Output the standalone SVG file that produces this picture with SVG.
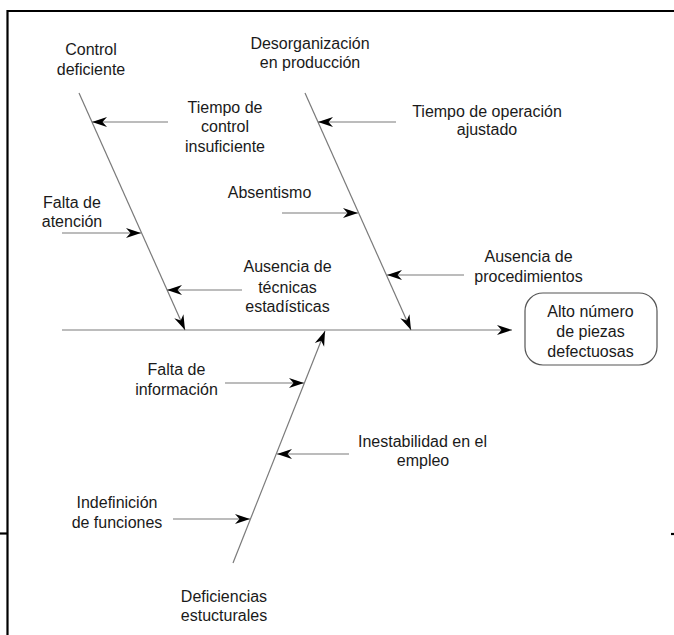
<svg xmlns="http://www.w3.org/2000/svg" width="674" height="635" viewBox="0 0 674 635">
<style>
text{font-family:"Liberation Sans",Arial,sans-serif;font-size:16px;fill:#1a1a1a;text-anchor:middle}
.ln{stroke:#7a7a7a;stroke-width:1.2;fill:none}
.frame{stroke:#000;stroke-width:2.2;fill:none}
</style>
<defs>
<marker id="ah" markerUnits="userSpaceOnUse" markerWidth="20" markerHeight="12" viewBox="-16 -6 18 12" refX="0" refY="0" orient="auto">
<path d="M0,0 L-15,-5 L-10.5,0 L-15,5 Z" fill="#000"/>
</marker>
</defs>
<rect width="674" height="635" fill="#fff"/>
<g id="frame">
<path class="frame" d="M7.5,635 V11 H674"/>
<path class="frame" d="M0,533.5 H7.5"/>
<path class="frame" d="M671,534 H674"/>
</g>
<g id="connectors">
<line class="ln" x1="62" y1="330" x2="512" y2="330" marker-end="url(#ah)"/>
<line class="ln" x1="79" y1="93" x2="185" y2="330" marker-end="url(#ah)"/>
<line class="ln" x1="305" y1="93" x2="411" y2="330" marker-end="url(#ah)"/>
<line class="ln" x1="233" y1="563" x2="325" y2="331" marker-end="url(#ah)"/>
<line class="ln" x1="168" y1="122" x2="92" y2="122" marker-end="url(#ah)"/>
<line class="ln" x1="396" y1="122" x2="318" y2="122" marker-end="url(#ah)"/>
<line class="ln" x1="62" y1="233" x2="141" y2="233" marker-end="url(#ah)"/>
<line class="ln" x1="282" y1="213" x2="358" y2="213" marker-end="url(#ah)"/>
<line class="ln" x1="242" y1="290" x2="167" y2="290" marker-end="url(#ah)"/>
<line class="ln" x1="464" y1="275" x2="387" y2="275" marker-end="url(#ah)"/>
<line class="ln" x1="225" y1="383" x2="304" y2="383" marker-end="url(#ah)"/>
<line class="ln" x1="349" y1="454" x2="277" y2="454" marker-end="url(#ah)"/>
<line class="ln" x1="173" y1="519" x2="250" y2="519" marker-end="url(#ah)"/>
</g>
<g id="effect">
<rect x="525" y="293" width="132" height="72" rx="18" ry="18" fill="#fff" stroke="#555" stroke-width="1.2"/>
<text x="590.5" y="317">Alto número</text>
<text x="590.5" y="337">de piezas</text>
<text x="590.5" y="357">defectuosas</text>
</g>
<g id="control-deficiente">
<text x="91" y="55">Control</text>
<text x="91" y="75">deficiente</text>
</g>
<g id="desorganizacion">
<text x="310" y="49">Desorganización</text>
<text x="310" y="68">en producción</text>
</g>
<g id="deficiencias-estructurales">
<text x="224" y="602">Deficiencias</text>
<text x="224" y="621">estucturales</text>
</g>
<g id="tiempo-control">
<text x="225" y="113">Tiempo de</text>
<text x="225" y="132">control</text>
<text x="225" y="152">insuficiente</text>
</g>
<g id="tiempo-operacion">
<text x="487" y="117">Tiempo de operación</text>
<text x="487" y="135">ajustado</text>
</g>
<g id="falta-atencion">
<text x="72" y="208">Falta de</text>
<text x="72" y="227">atención</text>
</g>
<g id="absentismo">
<text x="269.5" y="198">Absentismo</text>
</g>
<g id="ausencia-tecnicas">
<text x="287.5" y="272">Ausencia de</text>
<text x="287.5" y="293">técnicas</text>
<text x="287.5" y="312">estadísticas</text>
</g>
<g id="ausencia-procedimientos">
<text x="528.5" y="262">Ausencia de</text>
<text x="528.5" y="282">procedimientos</text>
</g>
<g id="falta-informacion">
<text x="176.5" y="375">Falta de</text>
<text x="176.5" y="395">información</text>
</g>
<g id="inestabilidad">
<text x="422.5" y="447">Inestabilidad en el</text>
<text x="423" y="466">empleo</text>
</g>
<g id="indefinicion">
<text x="117" y="508">Indefinición</text>
<text x="117" y="528">de funciones</text>
</g>
</svg>
